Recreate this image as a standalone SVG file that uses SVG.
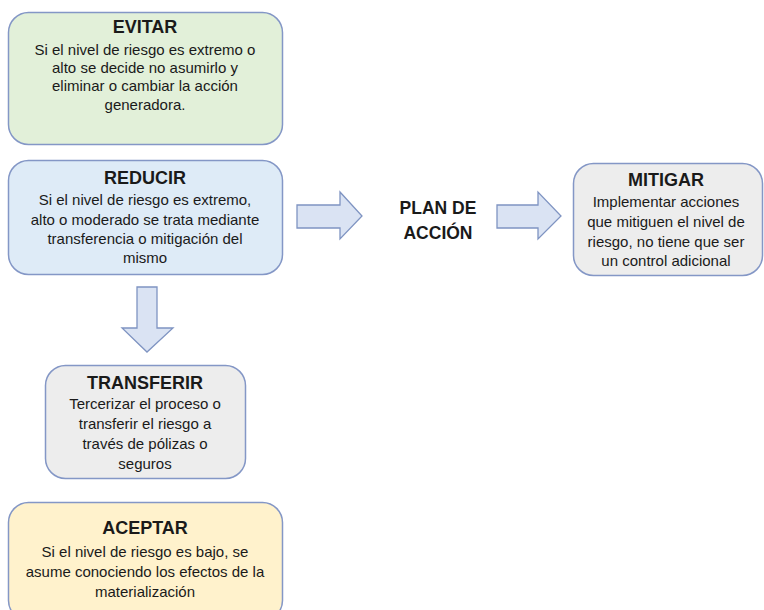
<svg xmlns="http://www.w3.org/2000/svg" width="764" height="610" viewBox="0 0 764 610">
<style>
.box{stroke:#8497C6;stroke-width:1.5}
.arr{fill:#DAE3F3;stroke:#7F94C2;stroke-width:1.3}
text{font-family:"Liberation Sans",Arial,sans-serif;fill:#1a1a1a;text-anchor:middle}
.t{font-weight:bold;font-size:18px}
.b{font-size:15px}
.p{font-weight:bold;font-size:17.5px}
</style>
<rect width="764" height="610" fill="#fff"/>
<g id="evitar">
<rect class="box" x="8.5" y="12.5" width="274" height="132" rx="20" fill="#E2F0D9"/>
<text class="t" x="145" y="33">EVITAR</text>
<text class="b" x="145" y="55">Si el nivel de riesgo es extremo o</text>
<text class="b" x="145" y="73">alto se decide no asumirlo y</text>
<text class="b" x="145" y="91">eliminar o cambiar la acción</text>
<text class="b" x="145" y="110">generadora.</text>
</g>
<g id="reducir">
<rect class="box" x="8.5" y="160.5" width="274" height="114" rx="20" fill="#DEEBF7"/>
<text class="t" x="145" y="184">REDUCIR</text>
<text class="b" x="145" y="205">Si el nivel de riesgo es extremo,</text>
<text class="b" x="145" y="225">alto o moderado se trata mediante</text>
<text class="b" x="145" y="244">transferencia o mitigación del</text>
<text class="b" x="145" y="263">mismo</text>
</g>
<g id="plan">
<text class="p" x="438" y="214">PLAN DE</text>
<text class="p" x="438" y="239">ACCIÓN</text>
</g>
<g id="mitigar">
<rect class="box" x="573.5" y="163.5" width="189" height="112" rx="20" fill="#EDEDED"/>
<text class="t" x="666" y="186">MITIGAR</text>
<text class="b" x="666" y="207">Implementar acciones</text>
<text class="b" x="666" y="227">que mitiguen el nivel de</text>
<text class="b" x="666" y="247">riesgo, no tiene que ser</text>
<text class="b" x="666" y="266">un control adicional</text>
</g>
<g id="transferir">
<rect class="box" x="45.5" y="365.5" width="200" height="113" rx="20" fill="#EDEDED"/>
<text class="t" x="145" y="389">TRANSFERIR</text>
<text class="b" x="145" y="409">Tercerizar el proceso o</text>
<text class="b" x="145" y="429">transferir el riesgo a</text>
<text class="b" x="145" y="449">través de pólizas o</text>
<text class="b" x="145" y="469">seguros</text>
</g>
<g id="aceptar">
<rect class="box" x="8.5" y="502.5" width="274" height="118" rx="20" fill="#FFF2CC"/>
<text class="t" x="145" y="534">ACEPTAR</text>
<text class="b" x="145" y="557">Si el nivel de riesgo es bajo, se</text>
<text class="b" x="145" y="577">asume conociendo los efectos de la</text>
<text class="b" x="145" y="597">materialización</text>
</g>
<g id="connectors">
<path class="arr" d="M297,205 H340 V192 L362,216 L340,239 V228 H297 Z"/>
<path class="arr" d="M497,205 H538 V192 L561,216 L538,239 V228 H497 Z"/>
<path class="arr" d="M137,287 H157 V328 H173 L147,352 L122,328 H137 Z"/>
</g>
</svg>
